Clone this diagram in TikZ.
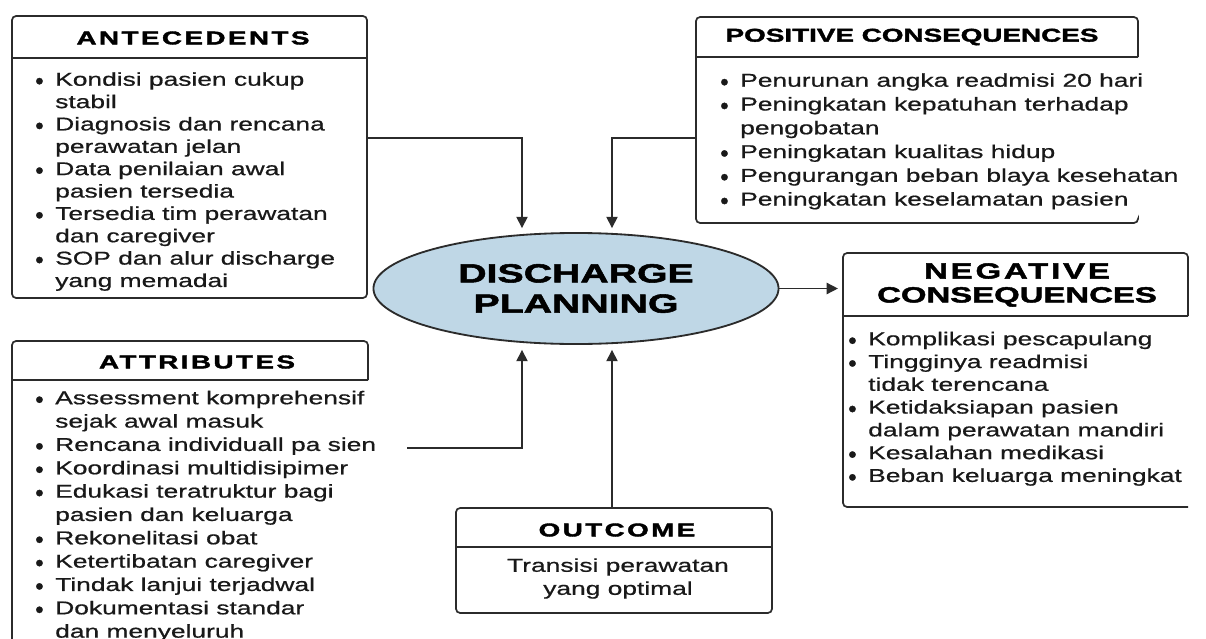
\documentclass[tikz,border=0pt]{standalone}
\usepackage{fontspec}
\setmainfont{Liberation Sans}
\newfontfamily\bodyfont[FakeStretch=1.42,FakeBold=0.7]{Liberation Sans}
\newfontfamily\dotfont[FakeBold=1]{Liberation Sans}
\newfontfamily\headfont[FakeStretch=1.5,FakeBold=2]{Liberation Sans Bold}
\newfontfamily\headwide[FakeStretch=1.5,FakeBold=2,LetterSpace=13]{Liberation Sans Bold}
\usetikzlibrary{shapes.geometric,arrows.meta}

\definecolor{inkgray}{HTML}{2B2B2B}
\definecolor{planblue}{HTML}{BFD7E6}

% bullet and hanging indent for the lists
\newcommand{\bul}{\makebox[14.2pt][l]{\raisebox{-2.4pt}{\dotfont\fontsize{17}{17}\selectfont\textbullet}}}
\newcommand{\cont}{\hspace*{14.2pt}}

\begin{document}
\begin{tikzpicture}[x=0.025cm,y=-0.025cm,
  frame/.style={draw=inkgray,line width=1.2pt,rounded corners=3pt},
  area/.style={inner sep=0pt,outer sep=0pt},
  head/.style={inner sep=0pt,text=black,font=\headfont\fontsize{13.2}{16}\selectfont},
  headsp/.style={head,font=\headwide\fontsize{13.2}{16}\selectfont},
  items/.style={anchor=north west,inner sep=0pt,align=left,text=black!90,
    font=\bodyfont\fontsize{13.2}{#1}\selectfont},
  link/.style={draw=inkgray,line width=1pt,-{Triangle[length=8pt,width=8pt]}}]

  \fill[white] (0,0) rectangle (1206,639);
  \useasboundingbox (0,0) rectangle (1206,639);

  % the five boxes
  \node[area,frame,minimum width=8.875cm,minimum height=7.05cm] (ante) at (189.5,157) {};
  \node[area,minimum width=11.05cm,minimum height=5.15cm] (pos) at (917,120) {};
  \node[area,minimum width=8.625cm,minimum height=6.35cm] (neg) at (1015.5,380) {};
  \node[area,minimum width=8.9cm,minimum height=8.975cm] (attr) at (190,520.5) {};
  \node[area,frame,minimum width=7.9cm,minimum height=2.625cm] (out) at (614,560.5) {};

  \draw[frame] (pos.east |- 0,57) -- (pos.north east) -- (pos.north west)
    -- (pos.south west) -- (pos.south east) -- ++(0,-4);
  \draw[frame] (neg.east |- 0,316) -- (neg.north east) -- (neg.north west)
    -- (neg.south west) -- (neg.south east);
  \draw[frame] (attr.east |- 0,380) -- (attr.north east) -- (attr.north west)
    -- (attr.south west);

  % header rules
  \draw[frame] (ante.west |- 0,58) -- (ante.east |- 0,58);
  \draw[frame] (pos.west |- 0,57) -- (pos.east |- 0,57);
  \draw[frame] (neg.west |- 0,316) -- (neg.east |- 0,316);
  \draw[frame] (attr.west |- 0,380) -- (attr.east |- 0,380);
  \draw[frame] (out.west |- 0,547) -- (out.east |- 0,547);

  % headers
  \node[headsp] (anteT) at (193,38) {ANTECEDENTS};
  \node[head] (posT) at (912,37) {POSITIVE CONSEQUENCES};
  \node[head,align=center,font=\headfont\fontsize{15.6}{17}\selectfont] (negT) at (1017,285)
    {\headwide NEGATIVE\\\headfont CONSEQUENCES};
  \node[headsp] (attrT) at (197,362) {ATTRIBUTES};
  \node[headsp] (outT) at (617,530) {OUTCOME};

  % lists
  \node[items=15.9pt] (anteL) at (35,72) {%
    \bul Kondisi pasien cukup\\ \cont stabil\\
    \bul Diagnosis dan rencana\\ \cont perawatan jelan\\
    \bul Data penilaian awal\\ \cont pasien tersedia\\
    \bul Tersedia tim perawatan\\ \cont dan caregiver\\
    \bul SOP dan alur discharge\\ \cont yang memadai};
  \node[items=16.9pt] (posL) at (720,73) {%
    \bul Penurunan angka readmisi 20 hari\\
    \bul Peningkatan kepatuhan terhadap\\ \cont pengobatan\\
    \bul Peningkatan kualitas hidup\\
    \bul Pengurangan beban blaya kesehatan\\
    \bul Peningkatan keselamatan pasien};
  \node[items=16.2pt] (negL) at (848,331.5) {%
    \bul Komplikasi pescapulang\\
    \bul Tingginya readmisi\\ \cont tidak terencana\\
    \bul Ketidaksiapan pasien\\ \cont dalam perawatan mandiri\\
    \bul Kesalahan medikasi\\
    \bul Beban keluarga meningkat};
  \node[items=16.6pt] (attrL) at (35,390.5) {%
    \bul Assessment komprehensif\\ \cont sejak awal masuk\\
    \bul Rencana individuall pa sien\\
    \bul Koordinasi multidisipimer\\
    \bul Edukasi teratruktur bagi\\ \cont pasien dan keluarga\\
    \bul Rekonelitasi obat\\
    \bul Ketertibatan caregiver\\
    \bul Tindak lanjui terjadwal\\
    \bul Dokumentasi standar\\ \cont dan menyeluruh};
  \node[inner sep=0pt,align=center,text=black!90,font=\bodyfont\fontsize{13.2}{16.4}\selectfont]
    (outL) at (618,578.5) {Transisi perawatan\\yang optimal};

  % centre
  \node[ellipse,draw=inkgray,line width=1.3pt,fill=planblue,inner sep=0pt,
    minimum width=10.125cm,minimum height=2.775cm,align=center,
    font=\headfont\fontsize{18.6}{21.5}\selectfont] (dp) at (576,288.5) {DISCHARGE\\PLANNING};

  % connectors
  \coordinate (attrOut) at (407,448);
  \draw[link,shorten >=0.1cm] (ante.east |- 0,138) -| (dp.north -| 522,0);
  \draw[link,shorten >=0.1cm] (pos.west |- 0,138) -| (dp.north -| 612,0);
  \draw[link,shorten >=0.125cm] (dp.east) -- (dp.east -| neg.west);
  \draw[link,shorten >=0.125cm] (attrOut) -| (dp.south -| 522,0);
  \draw[link,shorten >=0.125cm] (out.north -| 612,0) -- (dp.south -| 612,0);
\end{tikzpicture}
\end{document}
